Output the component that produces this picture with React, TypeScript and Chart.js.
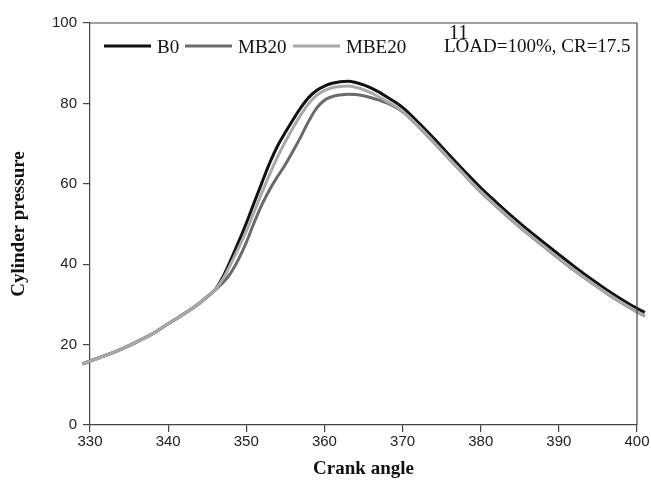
import React, { useEffect, useRef } from "react";
import { Chart, registerables } from "chart.js";

Chart.register(...registerables);

const angles = [329, 330, 332, 334, 336, 338, 340, 342, 344, 345, 346, 347, 348, 349, 350, 351, 352, 353, 354, 355, 356, 357, 358, 359, 360, 361, 362, 363, 364, 365, 366, 367, 368, 370, 372, 374, 376, 378, 380, 382, 384, 386, 388, 390, 392, 394, 396, 398, 400, 401];

const b0 = [15.2, 15.9, 17.3, 18.9, 20.7, 22.7, 25.2, 27.6, 30.3, 31.9, 33.6, 36.8, 41.0, 45.5, 50.2, 55.3, 60.3, 65.2, 69.4, 72.8, 76.0, 79.0, 81.5, 83.2, 84.3, 85.0, 85.4, 85.5, 85.2, 84.6, 83.8, 82.8, 81.6, 79.0, 75.3, 71.3, 67.1, 63.0, 59.0, 55.4, 51.9, 48.6, 45.5, 42.4, 39.4, 36.5, 33.8, 31.3, 29.0, 28.0];

const mb20 = [15.2, 15.9, 17.3, 18.9, 20.7, 22.7, 25.2, 27.6, 30.3, 31.9, 33.6, 35.4, 37.8, 41.2, 45.4, 50.3, 54.8, 58.6, 61.8, 64.8, 68.2, 71.8, 75.6, 78.8, 80.8, 81.7, 82.1, 82.3, 82.2, 81.9, 81.4, 80.8, 80.1, 77.9, 74.3, 70.3, 66.1, 62.0, 58.0, 54.4, 50.9, 47.6, 44.5, 41.4, 38.4, 35.6, 32.9, 30.4, 28.1, 27.1];

const mbe20 = [15.2, 15.9, 17.3, 18.9, 20.7, 22.7, 25.2, 27.6, 30.3, 31.9, 33.6, 36.3, 40.0, 44.0, 48.2, 53.0, 57.8, 62.4, 66.7, 70.5, 74.0, 77.2, 80.0, 82.0, 83.2, 83.9, 84.2, 84.3, 84.0, 83.4, 82.6, 81.6, 80.5, 78.0, 74.4, 70.4, 66.2, 62.1, 58.1, 54.5, 51.0, 47.7, 44.6, 41.5, 38.5, 35.7, 33.0, 30.5, 28.2, 27.2];

const seriesNames = ["B0", "MB20", "MBE20"];
const seriesColors = ["#111111", "#6a6a6a", "#a9a9a9"];
const xTicks = [330, 340, 350, 360, 370, 380, 390, 400];
const yTicks = [0, 20, 40, 60, 80, 100];
const noteText = "LOAD=100%, CR=17.5";
const markText = "11";

const overlay = {
  id: "overlay",
  beforeDatasetDraw(chart: any, args: any) {
    const meta = chart.getDatasetMeta(args.index);
    meta.controller._drawStart = 0;
    meta.controller._drawCount = meta.data.length;
  },
  afterDatasetsDraw(chart: any) {
    const { ctx, chartArea } = chart;
    ctx.save();
    ctx.strokeStyle = "#444";
    ctx.lineWidth = 1.2;
    ctx.beginPath();
    ctx.moveTo(chartArea.left, chartArea.top);
    ctx.lineTo(chartArea.right, chartArea.top);
    ctx.lineTo(chartArea.right, chartArea.bottom);
    ctx.stroke();
    const starts = [104, 185, 293];
    ctx.font = "19px 'Liberation Serif'";
    ctx.textBaseline = "alphabetic";
    seriesNames.forEach((name, i) => {
      ctx.strokeStyle = seriesColors[i];
      ctx.lineWidth = 3;
      ctx.beginPath();
      ctx.moveTo(starts[i], 46);
      ctx.lineTo(starts[i] + 47, 46);
      ctx.stroke();
      ctx.fillStyle = "#111";
      ctx.fillText(name, starts[i] + 53, 53);
    });
    ctx.fillStyle = "#111";
    ctx.font = "19px 'Liberation Serif'";
    ctx.fillText(noteText, 444, 52);
    ctx.font = "20px 'Liberation Serif'";
    ctx.fillText(markText, 449, 39);
    ctx.restore();
  },
};

export default function App() {
  const ref = useRef<HTMLCanvasElement>(null);
  useEffect(() => {
    const canvas = ref.current!;
    const mk = (vals: number[], i: number) => ({
      label: seriesNames[i],
      data: angles.map((a, k) => ({ x: a, y: vals[k] })),
      borderColor: seriesColors[i],
      backgroundColor: seriesColors[i],
      borderWidth: 3,
      pointRadius: 0,
      tension: 0.4,
      cubicInterpolationMode: "monotone" as const,
      clip: { left: 12, right: 12, top: 0, bottom: 0 },
    });
    const chart = new Chart(canvas, {
      type: "line",
      data: {
        datasets: [mbe20, mb20, b0].map((v, j) => mk(v, [2, 1, 0][j])),
      },
      options: {
        responsive: false,
        animation: false,
        layout: { padding: { top: 23, right: 14, left: 0, bottom: 0 } },
        plugins: { legend: { display: false }, tooltip: { enabled: false } },
        scales: {
          x: {
            type: "linear",
            min: 330,
            max: 400,
            afterBuildTicks: (s: any) => {
              s.ticks = xTicks.map((v) => ({ value: v }));
            },
            afterFit: (s: any) => {
              s.height = 60;
            },
            grid: { drawOnChartArea: false, drawTicks: true, tickLength: 7, color: "#444", lineWidth: 1.2 },
            border: { display: true, color: "#444", width: 1.2 },
            ticks: { color: "#222", font: { family: "'Liberation Sans'", size: 15 }, padding: 1, maxRotation: 0 },
            title: {
              display: true,
              text: "Crank angle",
              color: "#111",
              font: { family: "'Liberation Serif'", size: 19, weight: "bold" },
              padding: { top: 0, bottom: 5 },
            },
          },
          y: {
            type: "linear",
            min: 0,
            max: 100,
            afterBuildTicks: (s: any) => {
              s.ticks = yTicks.map((v) => ({ value: v }));
            },
            afterFit: (s: any) => {
              s.width = 90;
            },
            grid: { drawOnChartArea: false, drawTicks: true, tickLength: 7, color: "#444", lineWidth: 1.2 },
            border: { display: true, color: "#444", width: 1.2 },
            ticks: { color: "#222", font: { family: "'Liberation Sans'", size: 15 }, padding: 6 },
            title: {
              display: true,
              text: "Cylinder pressure",
              color: "#111",
              font: { family: "'Liberation Serif'", size: 19, weight: "bold" },
              padding: { top: 8, bottom: 0 },
            },
          },
        },
      },
      plugins: [overlay],
    });
    return () => chart.destroy();
  }, []);
  return (
    <div style={{ position: "fixed", left: 0, top: 0, width: 651, height: 485, background: "#fff" }}>
      <canvas ref={ref} width={651} height={485} style={{ width: 651, height: 485, display: "block" }} />
    </div>
  );
}
